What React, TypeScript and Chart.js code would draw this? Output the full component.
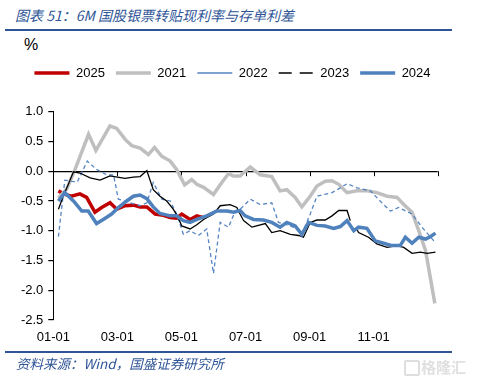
import React, { useEffect, useRef } from 'react';
import { Chart, registerables } from 'chart.js';

Chart.register(...registerables);

// x values are months elapsed since 01-01 (0 = Jan 1, 12 = Dec 31)
const tickLabels = ['01-01', '03-01', '05-01', '07-01', '09-01', '11-01', ''];
const seriesNames = ['2025', '2021', '2022', '2023', '2024'];

const m2025 = [0.16, 0.36, 0.57, 0.83, 1.04, 1.3, 1.51, 1.77, 1.98, 2.24, 2.5, 2.71, 2.92, 3.18, 3.44, 3.65, 3.85, 4.01, 4.27, 4.48, 4.69];
const v2025 = [-0.33, -0.39, -0.42, -0.38, -0.44, -0.69, -0.61, -0.53, -0.64, -0.58, -0.57, -0.6, -0.6, -0.72, -0.74, -0.78, -0.79, -0.72, -0.81, -0.75, -0.78];

const m2021 = [0.16, 0.42, 0.68, 1.1, 1.33, 1.77, 1.98, 2.25, 2.45, 2.71, 2.97, 3.16, 3.39, 3.65, 3.85, 4.1, 4.32, 4.48, 4.69, 5.0, 5.26, 5.47, 5.63, 5.83, 6.15, 6.46, 6.82, 7.08, 7.29, 7.55, 7.76, 8.02, 8.23, 8.49, 8.7, 8.91, 9.17, 9.48, 9.79, 10.1, 10.42, 10.73, 10.94, 11.2, 11.41, 11.62, 11.91];
const v2021 = [-0.45, -0.3, 0.03, 0.62, 0.35, 0.76, 0.72, 0.53, 0.43, 0.39, 0.28, 0.4, 0.25, 0.17, 0.03, -0.23, -0.14, -0.22, -0.27, -0.39, -0.19, -0.04, -0.08, -0.08, 0.07, -0.06, -0.09, -0.33, -0.31, -0.44, -0.6, -0.42, -0.25, -0.17, -0.16, -0.22, -0.36, -0.33, -0.33, -0.36, -0.42, -0.44, -0.56, -0.69, -1.0, -1.33, -2.22];

const m2022 = [0.16, 0.36, 0.57, 0.75, 1.06, 1.35, 1.67, 1.88, 2.03, 2.4, 2.71, 2.92, 3.12, 3.39, 3.65, 3.85, 4.06, 4.27, 4.53, 4.79, 5.0, 5.21, 5.47, 5.68, 5.83, 6.15, 6.46, 6.82, 7.03, 7.29, 7.55, 7.76, 8.02, 8.23, 8.7, 8.96, 9.17, 9.48, 9.9, 10.2, 10.52, 10.78, 11.2, 11.51, 11.88];
const v2022 = [-1.1, -0.15, -0.17, -0.18, 0.17, 0.03, -0.06, -0.06, -0.47, -0.53, -0.58, -0.53, -0.19, -0.47, -0.5, -0.72, -1.06, -1.0, -1.08, -0.97, -1.72, -0.86, -0.94, -0.67, -0.64, -0.47, -0.56, -0.53, -0.86, -0.9, -0.95, -1.06, -0.72, -0.42, -0.36, -0.28, -0.21, -0.28, -0.33, -0.5, -0.67, -0.61, -0.72, -0.94, -1.17];

const m2023 = [0.16, 0.31, 0.47, 0.63, 0.83, 1.15, 1.46, 1.77, 2.0, 2.24, 2.5, 2.71, 2.92, 3.12, 3.33, 3.54, 3.75, 3.9, 4.01, 4.27, 4.48, 4.69, 5.0, 5.21, 5.52, 5.73, 5.83, 5.94, 6.2, 6.62, 6.82, 7.08, 7.4, 7.66, 7.81, 8.02, 8.23, 8.49, 8.7, 8.91, 9.17, 9.27, 9.35, 9.45, 9.53, 9.84, 10.1, 10.42, 10.73, 10.94, 11.2, 11.46, 11.67, 11.93];
const v2023 = [-0.64, -0.42, -0.22, -0.01, -0.03, -0.11, -0.15, -0.08, -0.1, -0.12, -0.1, -0.09, 0.01, -0.31, -0.42, -0.5, -0.64, -0.78, -0.92, -0.97, -0.9, -0.81, -0.72, -0.58, -0.56, -0.61, -0.72, -0.83, -0.94, -0.88, -1.03, -1.0, -1.06, -1.08, -1.11, -0.86, -0.82, -0.82, -0.75, -0.66, -0.66, -0.83, null, -0.95, -1.03, -1.11, -1.22, -1.28, -1.25, -1.28, -1.38, -1.36, -1.38, -1.36];

const m2024 = [0.16, 0.36, 0.63, 0.89, 1.09, 1.35, 1.56, 1.82, 2.03, 2.29, 2.5, 2.71, 2.92, 3.12, 3.33, 3.65, 3.85, 4.06, 4.27, 4.48, 4.79, 5.1, 5.42, 5.63, 5.83, 5.99, 6.25, 6.56, 6.82, 7.08, 7.29, 7.55, 7.76, 7.97, 8.23, 8.49, 8.75, 8.96, 9.17, 9.38, 9.53, 9.79, 10.05, 10.31, 10.57, 10.83, 10.99, 11.2, 11.41, 11.62, 11.77, 11.93];
const v2024 = [-0.5, -0.36, -0.5, -0.67, -0.67, -0.88, -0.81, -0.72, -0.61, -0.5, -0.42, -0.4, -0.46, -0.6, -0.71, -0.75, -0.75, -0.83, -0.86, -0.81, -0.75, -0.67, -0.67, -0.69, -0.66, -0.75, -0.81, -0.82, -0.86, -0.94, -0.86, -0.92, -1.06, -0.86, -0.91, -0.92, -0.96, -0.93, -0.83, -1.0, -0.94, -0.96, -1.17, -1.21, -1.25, -1.25, -1.11, -1.21, -1.11, -1.14, -1.1, -1.04];

const pts = (m: number[], v: (number | null)[]) => m.map((x, i) => ({ x, y: v[i] }));

const FONT = '"Liberation Sans", Arial, sans-serif';
const CJK = '"Noto Sans CJK SC", "Liberation Sans", sans-serif';

const zeroTicks = {
  id: 'zeroTicks',
  beforeDatasetsDraw(chart: any) {
    const { ctx, scales } = chart;
    const xs = scales.x;
    const y0 = scales.y.getPixelForValue(0);
    ctx.save();
    ctx.strokeStyle = '#000';
    ctx.lineWidth = 1;
    xs.ticks.forEach((t: any) => {
      const px = Math.round(xs.getPixelForValue(t.value)) + 0.5;
      ctx.beginPath();
      ctx.moveTo(px, y0);
      ctx.lineTo(px, y0 + 5);
      ctx.stroke();
    });
    ctx.restore();
  },
};

export default function App() {
  const ref = useRef<HTMLCanvasElement>(null);
  useEffect(() => {
    if (!ref.current) return;
    const chart = new Chart(ref.current, {
      type: 'line',
      data: {
        datasets: [
          { label: seriesNames[0], data: pts(m2025, v2025), borderColor: '#C00000', backgroundColor: '#C00000', borderWidth: 3.5, order: 4 },
          { label: seriesNames[1], data: pts(m2021, v2021), borderColor: '#BFBFBF', backgroundColor: '#BFBFBF', borderWidth: 3.5, order: 3 },
          { label: seriesNames[2], data: pts(m2022, v2022), borderColor: '#5585C2', backgroundColor: '#5585C2', borderWidth: 1.3, borderDash: [4, 3], order: 2 },
          { label: seriesNames[3], data: pts(m2023, v2023), borderColor: '#000000', backgroundColor: '#000000', borderWidth: 1.3, order: 1 },
          { label: seriesNames[4], data: pts(m2024, v2024), borderColor: '#4F81BD', backgroundColor: '#4F81BD', borderWidth: 3.5, order: 0 },
        ] as any,
      },
      options: {
        animation: false,
        responsive: false,
        devicePixelRatio: 1,
        spanGaps: false,
        elements: { point: { radius: 0 }, line: { tension: 0 } },
        layout: { padding: { left: 0, right: 13, top: 55.5, bottom: 36 } },
        plugins: {
          tooltip: { enabled: false },
          title: {
            display: true,
            text: '',
            weight: 500,
            font: { size: 1, lineHeight: 1 },
            padding: { top: 21.2, bottom: 0 },
          } as any,
          legend: {
            position: 'top',
            labels: {
              usePointStyle: true,
              pointStyle: 'line',
              pointStyleWidth: 35,
              boxHeight: 13,
              padding: 11,
              color: '#000',
              font: { family: FONT, size: 13 },
              sort: (a: any, b: any) => a.datasetIndex - b.datasetIndex,
              generateLabels: (c: any) => {
                const items = (Chart.defaults.plugins.legend.labels as any).generateLabels(c);
                items.forEach((it: any) => {
                  if (it.text === '2023') it.lineDash = [13, 8];
                  it.pointStyle = 'line';
                });
                return items;
              },
            },
          } as any,
        },
        scales: {
          x: {
            type: 'linear',
            min: 0,
            max: 12,
            afterFit: (s: any) => { s.height = 30; },
            grid: { display: false, drawTicks: false },
            border: { display: false },
            ticks: {
              stepSize: 2,
              autoSkip: false,
              maxRotation: 0,
              padding: 10,
              color: '#000',
              font: { family: FONT, size: 13 },
              callback: (v: any) => tickLabels[Math.round(Number(v) / 2)] ?? '',
            },
          },
          y: {
            min: -2.5,
            max: 1.0,
            afterFit: (s: any) => { s.width = 53.3; },
            grid: {
              drawTicks: true,
              tickLength: 5,
              tickColor: '#000',
              lineWidth: 1.2,
              color: (c: any) => (c.tick && Math.abs(c.tick.value) < 1e-9 ? '#000' : 'rgba(0,0,0,0)'),
            },
            border: { display: true, color: '#000', width: 1 },
            ticks: {
              stepSize: 0.5,
              padding: 5,
              color: '#000',
              font: { family: FONT, size: 13 },
              callback: (v: any) => Number(v).toFixed(1),
            },
          },
          yRight: {
            type: 'linear',
            axis: 'y',
            position: 'right',
            display: true,
            afterFit: (s: any) => { s.width = 27.3; },
            grid: { display: false, drawTicks: false },
            border: { display: false },
            ticks: { display: false },
          },
        },
      } as any,
      plugins: [zeroTicks],
    });
    return () => chart.destroy();
  }, []);

  return (
    <div style={{ position: 'fixed', left: 0, top: 0, width: 478, height: 386, background: '#fff', overflow: 'hidden' }}>
      <div style={{ position: 'absolute', left: 15, top: 5, fontFamily: CJK, fontSize: 14, fontStyle: 'italic', color: '#2F5597', whiteSpace: 'nowrap', lineHeight: '20px' }}>
        图表 51：6M 国股银票转贴现利率与存单利差
      </div>
      <div style={{ position: 'absolute', left: 5, top: 28.5, width: 447, height: 2, background: '#2F5597' }} />
      <div style={{ position: 'absolute', left: 24, top: 35, fontFamily: FONT, fontSize: 16, color: '#000', lineHeight: '20px' }}>%</div>
      <canvas ref={ref} width={478} height={386} style={{ position: 'absolute', left: 0, top: 0, width: 478, height: 386 }} />
      <div style={{ position: 'absolute', left: 5, top: 351, width: 447, height: 1.5, background: '#2F5597' }} />
      <div style={{ position: 'absolute', left: 16, top: 354, fontFamily: CJK, fontSize: 13.5, fontStyle: 'italic', color: '#2F5597', whiteSpace: 'nowrap', lineHeight: '19px' }}>
        资料来源：Wind，国盛证券研究所
      </div>
      <div style={{ position: 'absolute', left: 404, top: 360, width: 12, height: 12, border: '2px solid #dedede', borderRadius: 2 }} />
      <div style={{ position: 'absolute', left: 421, top: 356, fontFamily: CJK, fontSize: 15, fontWeight: 'bold', color: '#e0e0e0', whiteSpace: 'nowrap', lineHeight: '22px' }}>
        格隆汇
      </div>
    </div>
  );
}
